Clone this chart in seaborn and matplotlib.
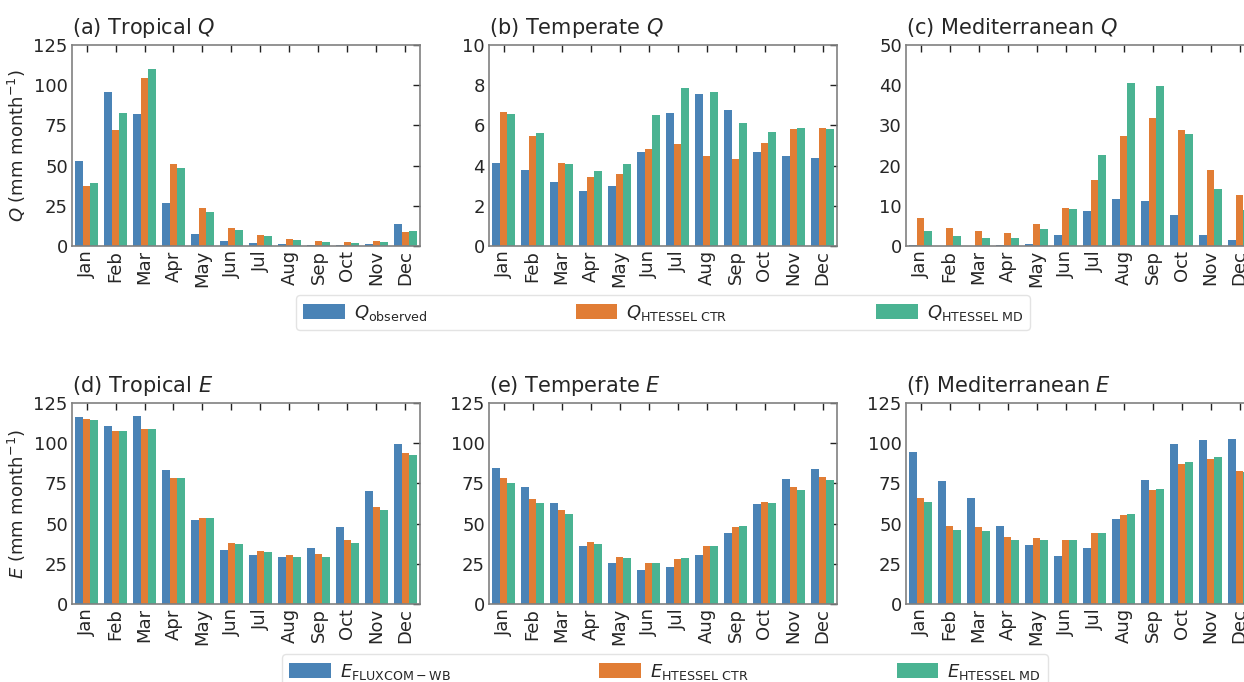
import numpy as np
import pandas as pd
import seaborn as sns
import matplotlib.pyplot as plt

months = ["Jan", "Feb", "Mar", "Apr", "May", "Jun",
          "Jul", "Aug", "Sep", "Oct", "Nov", "Dec"]

# discharge Q (mm month-1)
q_trop_obs = [52.9, 95.8, 82.1, 26.7, 7.5, 3.1, 1.9, 1.2, 0.6, 0.6, 1.2, 13.7]
q_trop_ctr = [37.3, 72.1, 104.5, 51.0, 23.6, 11.2, 6.8, 4.4, 3.1, 2.5, 3.1, 8.7]
q_trop_md = [39.2, 82.7, 110.1, 48.5, 21.1, 10.0, 6.2, 3.7, 2.5, 1.9, 2.5, 9.3]

q_temp_obs = [4.13, 3.78, 3.18, 2.74, 2.99, 4.68, 6.62, 7.56, 6.77, 4.68, 4.48, 4.38]
q_temp_ctr = [6.67, 5.47, 4.13, 3.43, 3.58, 4.83, 5.07, 4.48, 4.33, 5.12, 5.82, 5.87]
q_temp_md = [6.57, 5.62, 4.08, 3.73, 4.08, 6.52, 7.86, 7.66, 6.12, 5.67, 5.87, 5.82]

q_med_obs = [0.25, 0.05, 0.05, 0.25, 0.5, 2.7, 8.7, 11.7, 11.2, 7.7, 2.7, 1.5]
q_med_ctr = [7.0, 4.5, 3.7, 3.2, 5.5, 9.5, 16.4, 27.4, 31.8, 28.9, 18.9, 12.7]
q_med_md = [3.7, 2.5, 2.0, 2.0, 4.2, 9.2, 22.6, 40.5, 39.8, 27.9, 14.2, 9.0]

# evaporation E (mm month-1)
e_trop_flux = [116.5, 110.9, 117.1, 83.5, 52.3, 33.6, 30.5, 29.3, 34.9, 48.0, 70.4, 99.7]
e_trop_ctr = [115.2, 107.8, 109.0, 78.5, 53.6, 38.0, 33.0, 30.5, 31.1, 39.9, 60.4, 94.1]
e_trop_md = [114.6, 107.8, 109.0, 78.5, 53.6, 37.4, 32.4, 29.3, 29.3, 38.0, 58.6, 92.8]

e_temp_flux = [84.7, 72.9, 62.9, 36.1, 25.5, 21.2, 23.0, 30.5, 44.2, 62.3, 77.9, 84.1]
e_temp_ctr = [78.5, 65.4, 58.6, 38.6, 29.3, 25.5, 28.0, 36.1, 48.0, 63.5, 72.9, 79.1]
e_temp_md = [75.4, 62.9, 56.1, 37.4, 28.7, 25.5, 28.7, 36.1, 48.6, 62.9, 71.0, 77.2]

e_med_flux = [94.7, 76.6, 66.0, 48.6, 36.8, 29.9, 34.9, 52.9, 77.2, 99.7, 102.2, 102.8]
e_med_ctr = [66.0, 48.6, 48.0, 41.7, 41.1, 39.9, 44.2, 55.4, 71.0, 87.2, 90.3, 82.8]
e_med_md = [63.5, 46.1, 45.5, 39.9, 39.9, 39.9, 44.2, 56.1, 71.6, 88.5, 91.6, 82.0]

q_labels = [r"$Q_{\rm observed}$", r"$Q_{\rm HTESSEL\ CTR}$", r"$Q_{\rm HTESSEL\ MD}$"]
e_labels = [r"$E_{\rm FLUXCOM-WB}$", r"$E_{\rm HTESSEL\ CTR}$", r"$E_{\rm HTESSEL\ MD}$"]
colors = ["#4a83b6", "#e17d35", "#4ab392"]

panels = [
    ("(a) Tropical $Q$", q_labels, [q_trop_obs, q_trop_ctr, q_trop_md], [0, 25, 50, 75, 100, 125]),
    ("(b) Temperate $Q$", q_labels, [q_temp_obs, q_temp_ctr, q_temp_md], [0, 2, 4, 6, 8, 10]),
    ("(c) Mediterranean $Q$", q_labels, [q_med_obs, q_med_ctr, q_med_md], [0, 10, 20, 30, 40, 50]),
    ("(d) Tropical $E$", e_labels, [e_trop_flux, e_trop_ctr, e_trop_md], [0, 25, 50, 75, 100, 125]),
    ("(e) Temperate $E$", e_labels, [e_temp_flux, e_temp_ctr, e_temp_md], [0, 25, 50, 75, 100, 125]),
    ("(f) Mediterranean $E$", e_labels, [e_med_flux, e_med_ctr, e_med_md], [0, 25, 50, 75, 100, 125]),
]

sns.set_theme(style="white")
plt.rcParams["font.family"] = ["DejaVu Sans"]
plt.rcParams["mathtext.fontset"] = "dejavusans"

fig = plt.figure(figsize=(12.44, 6.82), dpi=100)

W, H = 1244, 682
lefts = [72, 489, 906]
tops = [45, 403]
aw, ah = 348, 201

axes = []
for i, (title, labels, series, yticks) in enumerate(panels):
    row, col = divmod(i, 3)
    ax = fig.add_axes([lefts[col] / W, 1 - (tops[row] + ah) / H, aw / W, ah / H])
    df = pd.DataFrame({
        "month": months * 3,
        "source": np.repeat(labels, 12),
        "value": np.concatenate(series),
    })
    sns.barplot(data=df, x="month", y="value", hue="source", palette=colors,
                width=0.8, saturation=1, linewidth=0, ax=ax, legend=True)
    ax.set_xlim(-0.5, 11.5)
    ax.set_ylim(yticks[0], yticks[-1])
    ax.set_yticks(yticks)
    ax.set_xlabel("")
    if col == 0:
        sym = "Q" if row == 0 else "E"
        ax.set_ylabel(rf"${sym}$ (mm month$^{{-1}}$)", fontsize=13)
    else:
        ax.set_ylabel("")
    ax.set_title(title, loc="left", fontsize=15, pad=8)
    ax.tick_params(axis="x", rotation=90, labelsize=13, direction="in",
                   top=True, length=5, width=1, pad=3, color="#222222")
    ax.tick_params(axis="y", labelsize=13, direction="in", right=True,
                   length=5, width=1, pad=3, color="#222222")
    for sp in ax.spines.values():
        sp.set_color("#808080")
        sp.set_linewidth(1.2)
    handles, hl = ax.get_legend_handles_labels()
    ax.get_legend().remove()
    axes.append((handles, hl))

for (h, l), x0, x1, ytop in [(axes[0], 296, 1030, 296), (axes[3], 282, 1048, 655)]:
    fig.legend(h, l, loc="upper center", ncol=3, mode="expand",
               bbox_to_anchor=(x0 / W, 1 - ytop / H, (x1 - x0) / W, 0.001),
               fontsize=13, handlelength=2.3, handleheight=0.9, handletextpad=0.5,
               frameon=True, edgecolor="#dddddd", borderaxespad=0, fancybox=True)

fig.savefig("out.png", dpi=100)
